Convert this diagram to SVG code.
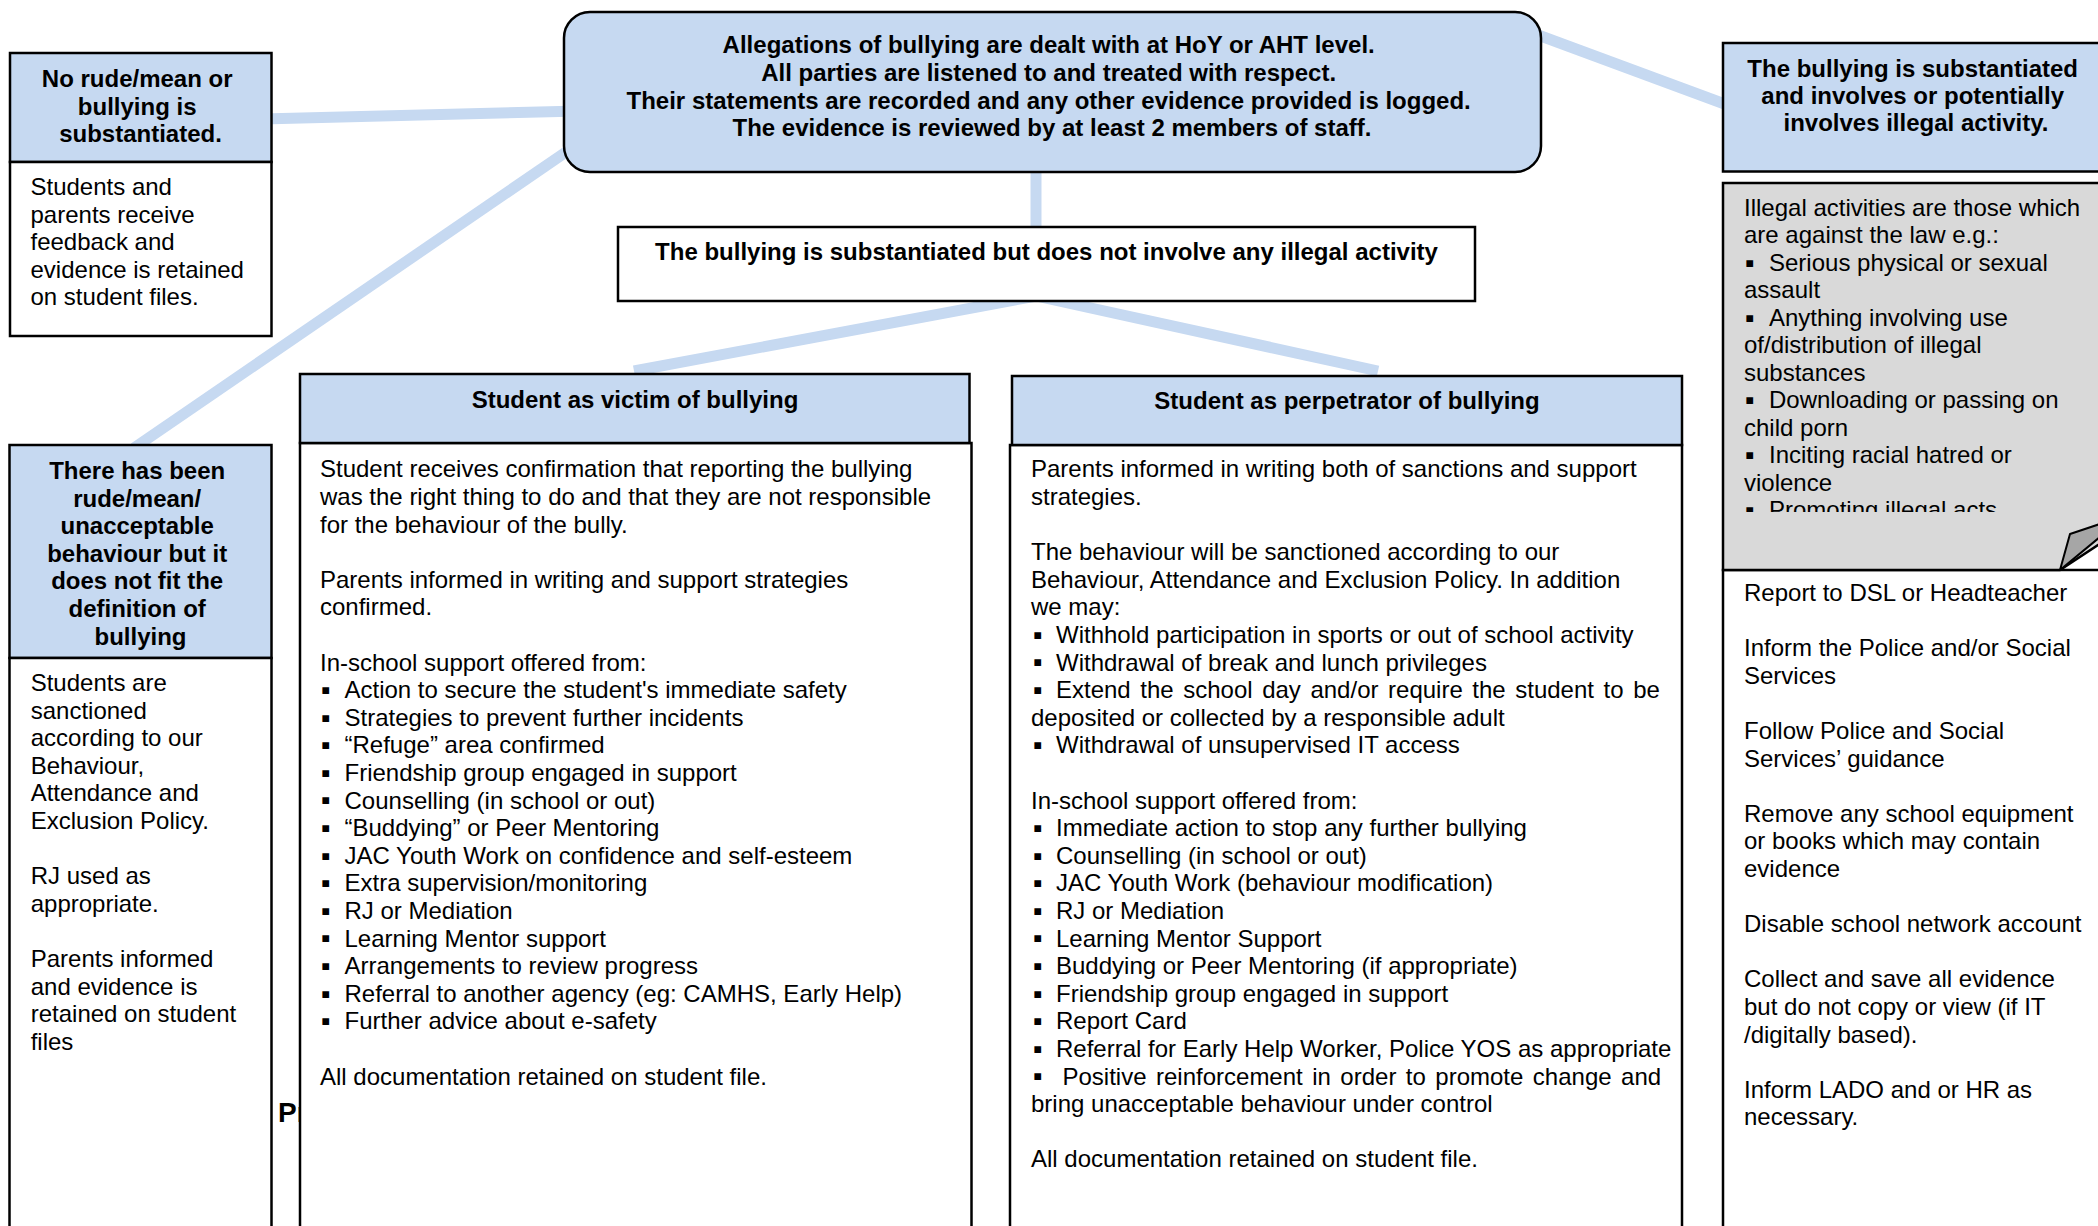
<svg xmlns="http://www.w3.org/2000/svg" width="2098" height="1226" viewBox="0 0 2098 1226">
<defs>
<style>
.box{fill:#fff;stroke:#000;stroke-width:2.5}
.hdr{fill:#C6D9F1;stroke:#000;stroke-width:2.5}
.gray{fill:#D9D9D9;stroke:#000;stroke-width:2.5}
.conn{stroke:#C6D9F1;stroke-width:11;fill:none;stroke-linecap:butt}
.t{font-family:"Liberation Sans",Arial,sans-serif;font-size:24px;fill:#000}
.b{font-weight:bold}
.c{text-anchor:middle}
.bul{font-family:"Liberation Sans",Arial,sans-serif;font-size:27px;fill:#000}
</style>
<clipPath id="grayclip"><rect x="1723" y="183" width="380" height="329"/></clipPath>
</defs>
<rect width="2098" height="1226" fill="#fff"/>

<g id="connectors">
<line class="conn" x1="262" y1="119" x2="580" y2="111"/>
<line class="conn" x1="585" y1="139" x2="134" y2="448"/>
<line class="conn" x1="1530" y1="32" x2="1730" y2="106"/>
<line class="conn" x1="1036" y1="165" x2="1036" y2="232"/>
<line class="conn" x1="1036" y1="296" x2="634" y2="371"/>
<line class="conn" x1="1036" y1="296" x2="1378" y2="371"/>
</g>

<text class="t b" x="278" y="1122" style="font-size:28px">Pr</text>

<g id="node-main">
<rect x="564" y="12" width="977" height="160" rx="26" ry="26" class="hdr"/>
<text class="t b c">
<tspan x="1052" y="53">Allegations of bullying are dealt with at HoY or AHT level.</tspan>
<tspan x="1052" y="81">All parties are listened to and treated with respect.</tspan>
<tspan x="1052" y="108.5">Their statements are recorded and any other evidence provided is logged.</tspan>
<tspan x="1052" y="136">The evidence is reviewed by at least 2 members of staff.</tspan>
</text>
</g>

<g id="node-norude">
<rect x="10" y="53" width="261.5" height="109" class="hdr"/>
<rect x="10" y="162" width="261.5" height="174" class="box"/>
<text class="t b c">
<tspan x="140.5" y="87">No rude/mean or</tspan>
<tspan x="140.5" y="114.5">bullying is</tspan>
<tspan x="140.5" y="142">substantiated.</tspan>
</text>
<text class="t">
<tspan x="30.5" y="195">Students and</tspan>
<tspan x="30.5" y="222.6">parents receive</tspan>
<tspan x="30.5" y="250.2">feedback and</tspan>
<tspan x="30.5" y="277.8">evidence is retained</tspan>
<tspan x="30.5" y="305.4">on student files.</tspan>
</text>
</g>

<g id="node-notfit">
<rect x="9.5" y="445" width="262" height="213" class="hdr"/>
<rect x="9.5" y="658" width="262" height="600" class="box"/>
<text class="t b c">
<tspan x="140.5" y="479">There has been</tspan>
<tspan x="140.5" y="506.6">rude/mean/</tspan>
<tspan x="140.5" y="534.2">unacceptable</tspan>
<tspan x="140.5" y="561.8">behaviour but it</tspan>
<tspan x="140.5" y="589.4">does not fit the</tspan>
<tspan x="140.5" y="617">definition of</tspan>
<tspan x="140.5" y="644.6">bullying</tspan>
</text>
<text class="t">
<tspan x="30.7" y="691">Students are</tspan>
<tspan x="30.7" y="718.6">sanctioned</tspan>
<tspan x="30.7" y="746.2">according to our</tspan>
<tspan x="30.7" y="773.8">Behaviour,</tspan>
<tspan x="30.7" y="801.4">Attendance and</tspan>
<tspan x="30.7" y="829">Exclusion Policy.</tspan>
<tspan x="30.7" y="884.2">RJ used as</tspan>
<tspan x="30.7" y="911.8">appropriate.</tspan>
<tspan x="30.7" y="967">Parents informed</tspan>
<tspan x="30.7" y="994.6">and evidence is</tspan>
<tspan x="30.7" y="1022.2">retained on student</tspan>
<tspan x="30.7" y="1049.8">files</tspan>
</text>
</g>

<g id="node-substantiated">
<rect x="618" y="227" width="857" height="74" class="box"/>
<text class="t b c" x="1046.5" y="260">The bullying is substantiated but does not involve any illegal activity</text>
</g>

<g id="node-victim">
<rect x="300" y="443" width="671.5" height="800" class="box"/>
<rect x="300" y="374" width="669.5" height="69" class="hdr"/>
<text class="t b c" x="635" y="408">Student as victim of bullying</text>
<text class="t">
<tspan x="320" y="477.3">Student receives confirmation that reporting the bullying</tspan>
<tspan x="320" y="504.9">was the right thing to do and that they are not responsible</tspan>
<tspan x="320" y="532.5">for the behaviour of the bully.</tspan>
<tspan x="320" y="587.7">Parents informed in writing and support strategies</tspan>
<tspan x="320" y="615.3">confirmed.</tspan>
<tspan x="320" y="670.5">In-school support offered from:</tspan>
<tspan x="344.5" y="698.1">Action to secure the student's immediate safety</tspan>
<tspan x="344.5" y="725.7">Strategies to prevent further incidents</tspan>
<tspan x="344.5" y="753.3">“Refuge” area confirmed</tspan>
<tspan x="344.5" y="780.9">Friendship group engaged in support</tspan>
<tspan x="344.5" y="808.5">Counselling (in school or out)</tspan>
<tspan x="344.5" y="836.1">“Buddying” or Peer Mentoring</tspan>
<tspan x="344.5" y="863.7">JAC Youth Work on confidence and self-esteem</tspan>
<tspan x="344.5" y="891.3">Extra supervision/monitoring</tspan>
<tspan x="344.5" y="918.9">RJ or Mediation</tspan>
<tspan x="344.5" y="946.5">Learning Mentor support</tspan>
<tspan x="344.5" y="974.1">Arrangements to review progress</tspan>
<tspan x="344.5" y="1001.7">Referral to another agency (eg: CAMHS, Early Help)</tspan>
<tspan x="344.5" y="1029.3">Further advice about e-safety</tspan>
<tspan x="320" y="1084.5">All documentation retained on student file.</tspan>
</text>
<text class="bul">
<tspan x="321" y="699">▪</tspan>
<tspan x="321" y="726.6">▪</tspan>
<tspan x="321" y="754.2">▪</tspan>
<tspan x="321" y="781.8">▪</tspan>
<tspan x="321" y="809.4">▪</tspan>
<tspan x="321" y="837">▪</tspan>
<tspan x="321" y="864.6">▪</tspan>
<tspan x="321" y="892.2">▪</tspan>
<tspan x="321" y="919.8">▪</tspan>
<tspan x="321" y="947.4">▪</tspan>
<tspan x="321" y="975">▪</tspan>
<tspan x="321" y="1002.6">▪</tspan>
<tspan x="321" y="1030.2">▪</tspan>
</text>
</g>

<g id="node-perpetrator">
<rect x="1010" y="445" width="672" height="800" class="box"/>
<rect x="1012" y="376" width="670" height="69" class="hdr"/>
<text class="t b c" x="1347" y="409">Student as perpetrator of bullying</text>
<text class="t">
<tspan x="1031" y="477.3">Parents informed in writing both of sanctions and support</tspan>
<tspan x="1031" y="504.9">strategies.</tspan>
<tspan x="1031" y="560.1">The behaviour will be sanctioned according to our</tspan>
<tspan x="1031" y="587.7">Behaviour, Attendance and Exclusion Policy. In addition</tspan>
<tspan x="1031" y="615.3">we may:</tspan>
<tspan x="1056" y="642.9">Withhold participation in sports or out of school activity</tspan>
<tspan x="1056" y="670.5">Withdrawal of break and lunch privileges</tspan>
<tspan x="1031" y="725.7">deposited or collected by a responsible adult</tspan>
<tspan x="1056" y="753.3">Withdrawal of unsupervised IT access</tspan>
<tspan x="1031" y="808.5">In-school support offered from:</tspan>
<tspan x="1056" y="836.1">Immediate action to stop any further bullying</tspan>
<tspan x="1056" y="863.7">Counselling (in school or out)</tspan>
<tspan x="1056" y="891.3">JAC Youth Work (behaviour modification)</tspan>
<tspan x="1056" y="918.9">RJ or Mediation</tspan>
<tspan x="1056" y="946.5">Learning Mentor Support</tspan>
<tspan x="1056" y="974.1">Buddying or Peer Mentoring (if appropriate)</tspan>
<tspan x="1056" y="1001.7">Friendship group engaged in support</tspan>
<tspan x="1056" y="1029.3">Report Card</tspan>
<tspan x="1056" y="1056.9">Referral for Early Help Worker, Police YOS as appropriate</tspan>
<tspan x="1031" y="1112.1">bring unacceptable behaviour under control</tspan>
<tspan x="1031" y="1167.3">All documentation retained on student file.</tspan>
</text>
<text class="t" x="1056" y="698.1" word-spacing="2.9">Extend the school day and/or require the student to be</text>
<text class="t" x="1062.5" y="1084.5" word-spacing="2.8">Positive reinforcement in order to promote change and</text>
<text class="bul">
<tspan x="1033" y="643.8">▪</tspan>
<tspan x="1033" y="671.4">▪</tspan>
<tspan x="1033" y="699">▪</tspan>
<tspan x="1033" y="754.2">▪</tspan>
<tspan x="1033" y="837">▪</tspan>
<tspan x="1033" y="864.6">▪</tspan>
<tspan x="1033" y="892.2">▪</tspan>
<tspan x="1033" y="919.8">▪</tspan>
<tspan x="1033" y="947.4">▪</tspan>
<tspan x="1033" y="975">▪</tspan>
<tspan x="1033" y="1002.6">▪</tspan>
<tspan x="1033" y="1030.2">▪</tspan>
<tspan x="1033" y="1057.8">▪</tspan>
<tspan x="1033" y="1085.4">▪</tspan>
</text>
</g>

<g id="node-illegal">
<rect x="1723" y="43" width="400" height="128.5" class="hdr"/>
<text class="t b c">
<tspan x="1916" y="76.5">The bullying is substantiated</tspan>
<tspan x="1916" y="103.5">and involves or potentially</tspan>
<tspan x="1916" y="131">involves illegal activity.</tspan>
</text>
<rect x="1723" y="570" width="400" height="700" class="box"/>
<polygon points="1723,183 2110,183 2110,537 2060,570 1723,570" class="gray"/>
<polygon points="2060,570 2070,534 2100,524 2100,537" fill="#A6A6A6" stroke="#000" stroke-width="2" stroke-linejoin="round"/>
<g clip-path="url(#grayclip)">
<text class="t">
<tspan x="1744" y="215.7">Illegal activities are those which</tspan>
<tspan x="1744" y="243.2">are against the law e.g.:</tspan>
<tspan x="1769" y="270.7">Serious physical or sexual</tspan>
<tspan x="1744" y="298.2">assault</tspan>
<tspan x="1769" y="325.7">Anything involving use</tspan>
<tspan x="1744" y="353.2">of/distribution of illegal</tspan>
<tspan x="1744" y="380.7">substances</tspan>
<tspan x="1769" y="408.2">Downloading or passing on</tspan>
<tspan x="1744" y="435.7">child porn</tspan>
<tspan x="1769" y="463.2">Inciting racial hatred or</tspan>
<tspan x="1744" y="490.7">violence</tspan>
<tspan x="1769" y="518.2">Promoting illegal acts</tspan>
</text>
<text class="bul">
<tspan x="1745" y="271.6">▪</tspan>
<tspan x="1745" y="326.6">▪</tspan>
<tspan x="1745" y="409.1">▪</tspan>
<tspan x="1745" y="464.1">▪</tspan>
<tspan x="1745" y="519.1">▪</tspan>
</text>
</g>
<text class="t">
<tspan x="1744" y="601">Report to DSL or Headteacher</tspan>
<tspan x="1744" y="656.2">Inform the Police and/or Social</tspan>
<tspan x="1744" y="683.8">Services</tspan>
<tspan x="1744" y="739">Follow Police and Social</tspan>
<tspan x="1744" y="766.6">Services’ guidance</tspan>
<tspan x="1744" y="821.8">Remove any school equipment</tspan>
<tspan x="1744" y="849.4">or books which may contain</tspan>
<tspan x="1744" y="877">evidence</tspan>
<tspan x="1744" y="932.2">Disable school network account</tspan>
<tspan x="1744" y="987.4">Collect and save all evidence</tspan>
<tspan x="1744" y="1015">but do not copy or view (if IT</tspan>
<tspan x="1744" y="1042.6">/digitally based).</tspan>
<tspan x="1744" y="1097.8">Inform LADO and or HR as</tspan>
<tspan x="1744" y="1125.4">necessary.</tspan>
</text>
</g>
</svg>
